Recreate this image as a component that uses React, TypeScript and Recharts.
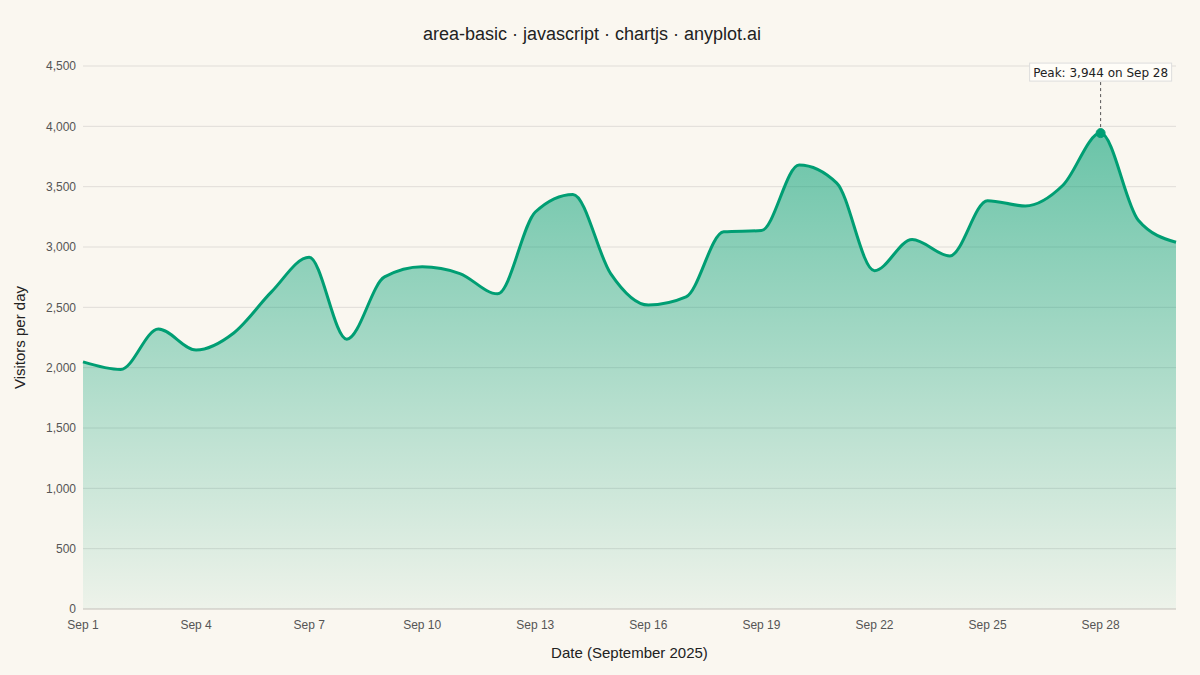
import { AreaChart, Area, XAxis, YAxis, CartesianGrid, ReferenceLine, ReferenceDot } from 'recharts'

const days = [1, 2, 3, 4, 5, 6, 7, 8, 9, 10, 11, 12, 13, 14, 15, 16, 17, 18, 19, 20, 21, 22, 23, 24, 25, 26, 27, 28, 29, 30]
const visitors = [
    2048, 1985, 2320, 2146, 2287, 2628, 2915, 2236, 2752, 2836,
    2780, 2612, 3290, 3436, 2780, 2519, 2586, 3126, 3136, 3680,
    3530, 2804, 3063, 2926, 3384, 3340, 3512, 3944, 3222, 3039,
]
const xTicks = [1, 4, 7, 10, 13, 16, 19, 22, 25, 28]
const yTicks = [0, 500, 1000, 1500, 2000, 2500, 3000, 3500, 4000, 4500]
const peakDay = 28
const peakValue = 3944
const labelValue = 4375

const green = '#009E73'
const font = '"Liberation Sans", Arial, sans-serif'

function PeakLabel({ cx, cy }: any) {
    return (
        <g>
            <rect x={cx - 71} y={cy - 18} width={142} height={18} fill="#fffdf8" stroke="#dddddd" strokeWidth={1} />
            <text x={cx} y={cy - 4.5} textAnchor="middle" fontFamily='"DejaVu Sans", sans-serif' fontSize={12} fill="#222">
                Peak: 3,944 on Sep 28
            </text>
        </g>
    )
}

export default function App() {
    const data = days.map((d, i) => ({ day: d, visitors: visitors[i] }))
    return (
        <div style={{ position: 'fixed', top: 0, left: 0, width: 1200, height: 675, background: '#faf7f0', fontFamily: font }}>
            <div style={{ position: 'absolute', top: 24, left: -8, width: 1200, textAlign: 'center', fontSize: 18, color: '#222' }}>
                area-basic · javascript · chartjs · anyplot.ai
            </div>
            <AreaChart
                width={1200}
                height={675}
                data={data}
                margin={{ top: 66, right: 24, left: 23, bottom: 36 }}
            >
                <defs>
                    <linearGradient id="fillGrad" x1="0" y1="66" x2="0" y2="609" gradientUnits="userSpaceOnUse">
                        <stop offset="0%" stopColor={green} stopOpacity={0.65} />
                        <stop offset="100%" stopColor={green} stopOpacity={0.05} />
                    </linearGradient>
                </defs>
                <CartesianGrid vertical={false} stroke="#e0ddd8" strokeWidth={1} />
                <XAxis
                    dataKey="day"
                    type="number"
                    domain={[1, 30]}
                    ticks={xTicks}
                    tickFormatter={d => `Sep ${d}`}
                    tickLine={false}
                    axisLine={{ stroke: '#cfcbc4' }}
                    tick={{ fill: '#555', fontSize: 12, fontFamily: font }}
                    height={30}
                    tickMargin={5}
                    label={{ value: 'Date (September 2025)', position: 'insideBottom', offset: -19, fill: '#222', fontSize: 15, fontFamily: font }}
                />
                <YAxis
                    domain={[0, 4500]}
                    ticks={yTicks}
                    tickFormatter={v => v.toLocaleString('en-US')}
                    tickLine={false}
                    axisLine={false}
                    width={60}
                    tick={{ fill: '#555', fontSize: 12, fontFamily: font }}
                    tickMargin={1}
                    label={{ value: 'Visitors per day', angle: -90, position: 'insideLeft', offset: -3, fill: '#222', fontSize: 15, fontFamily: font, style: { textAnchor: 'middle' } }}
                />
                <Area
                    type="monotone"
                    dataKey="visitors"
                    stroke={green}
                    strokeWidth={3}
                    fill="url(#fillGrad)"
                    fillOpacity={1}
                    dot={false}
                    activeDot={false}
                    isAnimationActive={false}
                />
                <ReferenceLine
                    segment={[{ x: peakDay, y: peakValue }, { x: peakDay, y: labelValue }]}
                    stroke="#555"
                    strokeDasharray="3 3"
                    strokeWidth={1}
                />
                <ReferenceDot x={peakDay} y={peakValue} r={4.5} fill={green} stroke={green} />
                <ReferenceDot x={peakDay} y={labelValue} r={0} shape={<PeakLabel />} />
            </AreaChart>
        </div>
    )
}
